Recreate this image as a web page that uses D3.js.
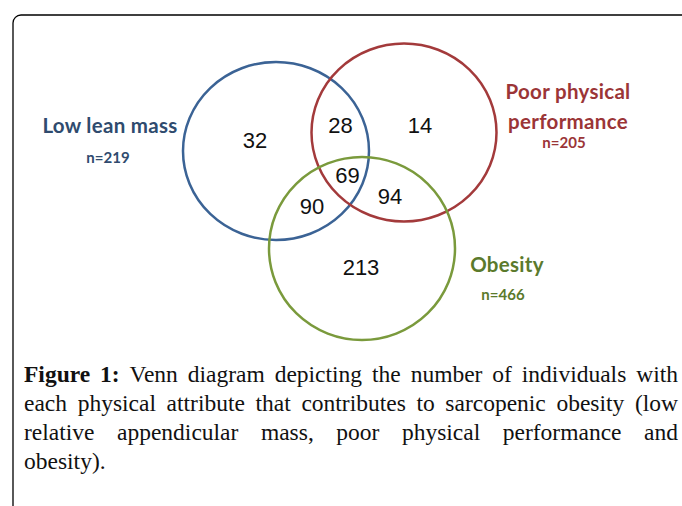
<!DOCTYPE html>
<html>
<head>
<meta charset="utf-8">
<script src="https://cdn.jsdelivr.net/npm/d3@7"></script>
<style>
  body { margin: 0; background: #fff; }
</style>
</head>
<body>
<div id="chart"><svg width="682" height="506"></svg></div>
<script>
// sets and their totals
const setNames = ["Low lean mass", "Poor physical performance", "Obesity"];
const setTotals = [219, 205, 466];
const setColors = ["#3b6395", "#a33a3b", "#7a9a3c"];
const labelColors = ["#2f4b6e", "#9b3537", "#5b7a2c"];

// region counts (which sets the region belongs to)
const regionSets = [["A"], ["A", "B"], ["B"], ["A", "B", "C"], ["A", "C"], ["B", "C"], ["C"]];
const regionCounts = [32, 28, 14, 69, 90, 94, 213];

const captionLines = [
    "Figure 1: Venn diagram depicting the number of individuals with",
    "each physical attribute that contributes to sarcopenic obesity (low",
    "relative appendicular mass, poor physical performance and",
    "obesity)."
];

const svg = d3.select("#chart svg");

// frame
svg.append("rect")
    .attr("x", 13).attr("y", 15)
    .attr("width", 720).attr("height", 560)
    .attr("rx", 8)
    .attr("fill", "none")
    .attr("stroke", "#000")
    .attr("stroke-width", 1.3);

// ellipses layout
const ellipses = [
    { cx: 276, cy: 151, rx: 93, ry: 89 },
    { cx: 404, cy: 132.5, rx: 92.5, ry: 89 },
    { cx: 362, cy: 248.5, rx: 93, ry: 91.5 }
];

svg.selectAll(".set")
    .data(ellipses)
    .enter()
    .append("ellipse")
    .attr("class", "set")
    .attr("cx", d => d.cx)
    .attr("cy", d => d.cy)
    .attr("rx", d => d.rx)
    .attr("ry", d => d.ry)
    .attr("fill", "none")
    .attr("stroke", (d, i) => setColors[i])
    .attr("stroke-width", 2.5);

// number placement per region
const regionPos = {
    "A": [255, 148], "A,B": [340.5, 133], "B": [420, 133],
    "A,B,C": [347.5, 183], "A,C": [312, 214], "B,C": [390, 204], "C": [361, 275]
};

svg.selectAll(".count")
    .data(regionCounts)
    .enter()
    .append("text")
    .attr("class", "count")
    .attr("x", (d, i) => regionPos[regionSets[i].join(",")][0])
    .attr("y", (d, i) => regionPos[regionSets[i].join(",")][1])
    .attr("text-anchor", "middle")
    .style("font-family", "'Liberation Sans', Arial, sans-serif")
    .style("font-size", "22px")
    .style("fill", "#111")
    .text(d => d);

// set labels
const labelLayout = [
    { lines: ["Low lean mass"], x: 110, y: [133], nx: 108, ny: 163 },
    { lines: ["Poor physical", "performance"], x: 568, y: [99, 129], nx: 564, ny: 148 },
    { lines: ["Obesity"], x: 507, y: [272], nx: 503, ny: 300 }
];

labelLayout.forEach((l, i) => {
    l.lines.forEach((t, j) => {
        svg.append("text")
            .attr("x", l.x).attr("y", l.y[j])
            .attr("text-anchor", "middle")
            .style("font-family", "Lato, 'Open Sans', sans-serif")
            .style("font-weight", "bold")
            .style("font-size", "20.5px")
            .style("letter-spacing", "0.3px")
            .style("fill", labelColors[i])
            .text(t);
    });
    svg.append("text")
        .attr("x", l.nx).attr("y", l.ny)
        .attr("text-anchor", "middle")
        .style("font-family", "Lato, 'Open Sans', sans-serif")
        .style("font-weight", "bold")
        .style("font-size", "15px")
        .style("fill", labelColors[i])
        .text("n=" + setTotals[i]);
});

// justified caption
const capX0 = 24, capX1 = 678, capY0 = 382, capLH = 29;
const capFont = "'Liberation Serif', 'Times New Roman', serif";
const capSize = "23.5px";

function measure(word, bold) {
    const t = svg.append("text")
        .style("font-family", capFont)
        .style("font-size", capSize)
        .style("font-weight", bold ? "bold" : "normal")
        .text(word);
    const w = t.node().getComputedTextLength();
    t.remove();
    return w;
}

captionLines.forEach((line, li) => {
    let words = line.split(" ").map((w, k) => ({ w, bold: li === 0 && k < 2 }));
    words.forEach(d => d.len = measure(d.w, d.bold));
    const total = d3.sum(words, d => d.len);
    const last = li === captionLines.length - 1;
    const gap = last ? measure("a", false) * 0.5 : (capX1 - capX0 - total) / (words.length - 1);
    let x = capX0;
    words.forEach(d => {
        svg.append("text")
            .attr("x", x).attr("y", capY0 + li * capLH)
            .style("font-family", capFont)
            .style("font-size", capSize)
            .style("font-weight", d.bold ? "bold" : "normal")
            .style("fill", "#111")
            .text(d.w);
        x += d.len + gap;
    });
});
</script>
</body>
</html>
